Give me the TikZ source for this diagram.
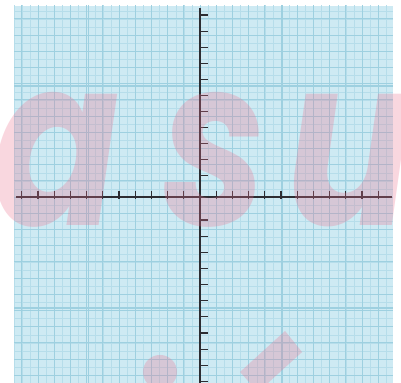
\documentclass[tikz,border=0pt]{standalone}
\usepackage{fontspec}
\newfontfamily\wmfont{Poppins}
\definecolor{paper}{RGB}{206,234,243}
\definecolor{gridline}{RGB}{182,221,234}
\definecolor{gridbold}{RGB}{158,208,224}
\definecolor{wmpink}{RGB}{235,110,140}
\definecolor{axisgray}{RGB}{45,45,50}
\begin{document}
\begin{tikzpicture}[x=0.45cm,y=0.45cm,
	axisline/.style={axisgray, line width=1.1pt},
	tickmark/.style={axisgray, line width=0.9pt},
	wmark/.style={wmpink, opacity=0.28},
	wmletter/.style={wmark, anchor=base west, inner sep=0pt, xscale=0.8,
		font=\wmfont\bfseries\itshape\fontsize{186}{186}\selectfont}]
	\useasboundingbox (-12.346,-11.48) rectangle (12.407,12.16);
	% paper
	\fill[paper] (-11.48,-11.48) rectangle (11.91,11.79);
	\begin{scope}
		\clip (-11.48,-11.48) rectangle (11.91,11.79);
		\draw[gridline, line width=0.25pt, step=0.5] (-12,-12) grid (12,12);
		\draw[gridbold, line width=0.5pt, step=1] (-12,-12) grid (12,12);
		\draw[gridbold, line width=1pt] (-12,6.85) -- (12,6.85) (-12,-6.85) -- (12,-6.85);
		\draw[gridbold, line width=1pt] (-6.9,-12) -- (-6.9,12) (5.1,-12) -- (5.1,12);
	\end{scope}
	% axes
	\draw[axisline] (-11.36,0) -- (11.85,0);
	\draw[axisline] (0,-11.48) -- (0,11.67);
	\foreach \i in {1,...,11} {
		\draw[tickmark] (\i,-0.12) -- (\i,0.37);
		\draw[tickmark] (-\i,-0.12) -- (-\i,0.37);
	}
	\foreach \i in {0,...,10} {
		\draw[tickmark] (-0.06,1.33+0.99*\i) -- (0.5,1.33+0.99*\i);
		\draw[tickmark] (-0.06,-1.42-0.996*\i) -- (0.5,-1.42-0.996*\i);
	}
	% watermark
	\node[wmletter] (wma) at (-12.8,-1.73) {a};
	\node[wmletter] (wms) at (-2.3,-1.73) {s};
	\node[wmletter] (wmu) at (5.3,-1.73) {u};
	\fill[wmark] (-2.47,-10.8) circle (1.05);
	\fill[wmark] (2.47,-10.8) -- (5.25,-8.27) -- (6.30,-9.57) -- (3.58,-12.04) -- cycle;
\end{tikzpicture}
\end{document}
